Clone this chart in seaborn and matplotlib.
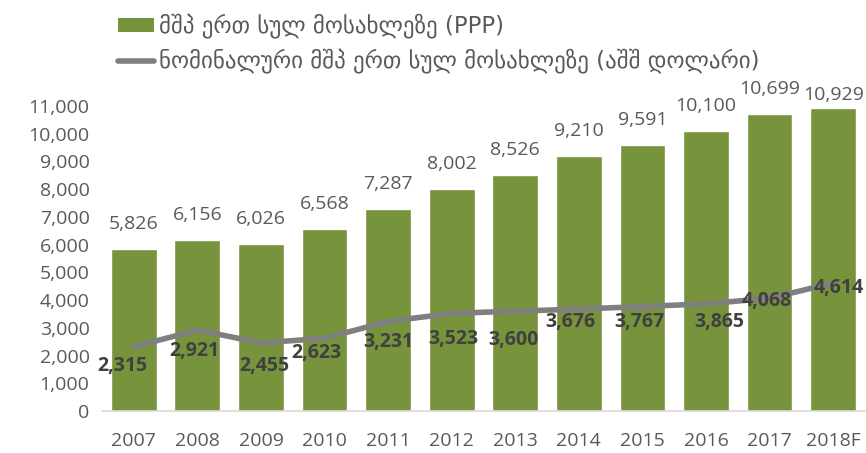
import numpy as np
import matplotlib
matplotlib.use("Agg")
import matplotlib.pyplot as plt
import seaborn as sns
from matplotlib.patches import Patch
from matplotlib.lines import Line2D

# data
years = ["2007", "2008", "2009", "2010", "2011", "2012",
         "2013", "2014", "2015", "2016", "2017", "2018F"]
gdp_ppp = [5826, 6156, 6026, 6568, 7287, 8002,
           8526, 9210, 9591, 10100, 10699, 10929]
gdp_nominal = [2315, 2921, 2455, 2623, 3231, 3523,
               3600, 3676, 3767, 3865, 4068, 4614]
label_ppp = "მშპ ერთ სულ მოსახლეზე (PPP)"
label_nominal = "ნომინალური მშპ ერთ სულ მოსახლეზე (აშშ დოლარი)"

# pixel nudges for the line labels (Excel placed them by hand)
line_label_offsets = [(-11, -19), (-3, -21), (3, -23), (-8, -15), (0, -21), (2, -26),
                      (-2, -29), (-8, -13), (-3, -15), (13, -18), (-3, -3), (6, -5)]

green = "#77933C"
grey_line = "#7F7F7F"
num_font = "Open Sans"

sns.set_theme(style="white")
plt.rcParams["font.family"] = [num_font, "DejaVu Sans"]

fig = plt.figure(figsize=(8.66, 4.53), dpi=100)
ax = fig.add_axes([0.1178, 0.0927, 0.881, 0.6733])

sns.barplot(x=years, y=gdp_ppp, color=green, width=0.72, saturation=1, ax=ax)
xpos = np.arange(len(years))
sns.lineplot(x=xpos, y=gdp_nominal, color=grey_line, linewidth=4, ax=ax, sort=False)

ax.set_ylim(0, 11000)
ax.set_xlim(-0.5, len(years) - 0.5)
ax.set_yticks(range(0, 11001, 1000))
ax.set_yticklabels([f"{v:,}" for v in range(0, 11001, 1000)])
ax.tick_params(axis="both", length=0, labelsize=14, colors="#595959")
ax.tick_params(axis="x", pad=15)
ax.tick_params(axis="y", pad=9)
ax.set_xlabel("")
ax.set_ylabel("")
for s in ["top", "right", "left"]:
    ax.spines[s].set_visible(False)
ax.spines["bottom"].set_color("#D9D9D9")
ax.spines["bottom"].set_linewidth(1.2)

# bar value labels
for i, v in enumerate(gdp_ppp):
    dy = 13 if i == len(years) - 1 else 25
    ax.annotate(f"{v:,}", (i, v), xytext=(0, dy * 0.72), textcoords="offset points",
                ha="center", va="center", fontsize=14, color="#595959", clip_on=False)

# line value labels
for i, v in enumerate(gdp_nominal):
    dx, dy = line_label_offsets[i]
    ax.annotate(f"{v:,}", (i, v), xytext=(dx * 0.72, dy * 0.72), textcoords="offset points",
                ha="center", va="center", fontsize=14, fontweight="bold", color="#404040")

handles = [Patch(facecolor=green, edgecolor="none"),
           Line2D([0], [0], color=grey_line, linewidth=4)]
fig.legend(handles, [label_ppp, label_nominal], loc="upper left",
           bbox_to_anchor=(0.113, 1.015), frameon=False,
           handlelength=1.55, handleheight=0.55, handletextpad=0.2, labelspacing=0.45,
           prop={"family": ["DejaVu Sans"], "size": 16.5}, labelcolor="#595959")

fig.savefig("out.png", dpi=100)
